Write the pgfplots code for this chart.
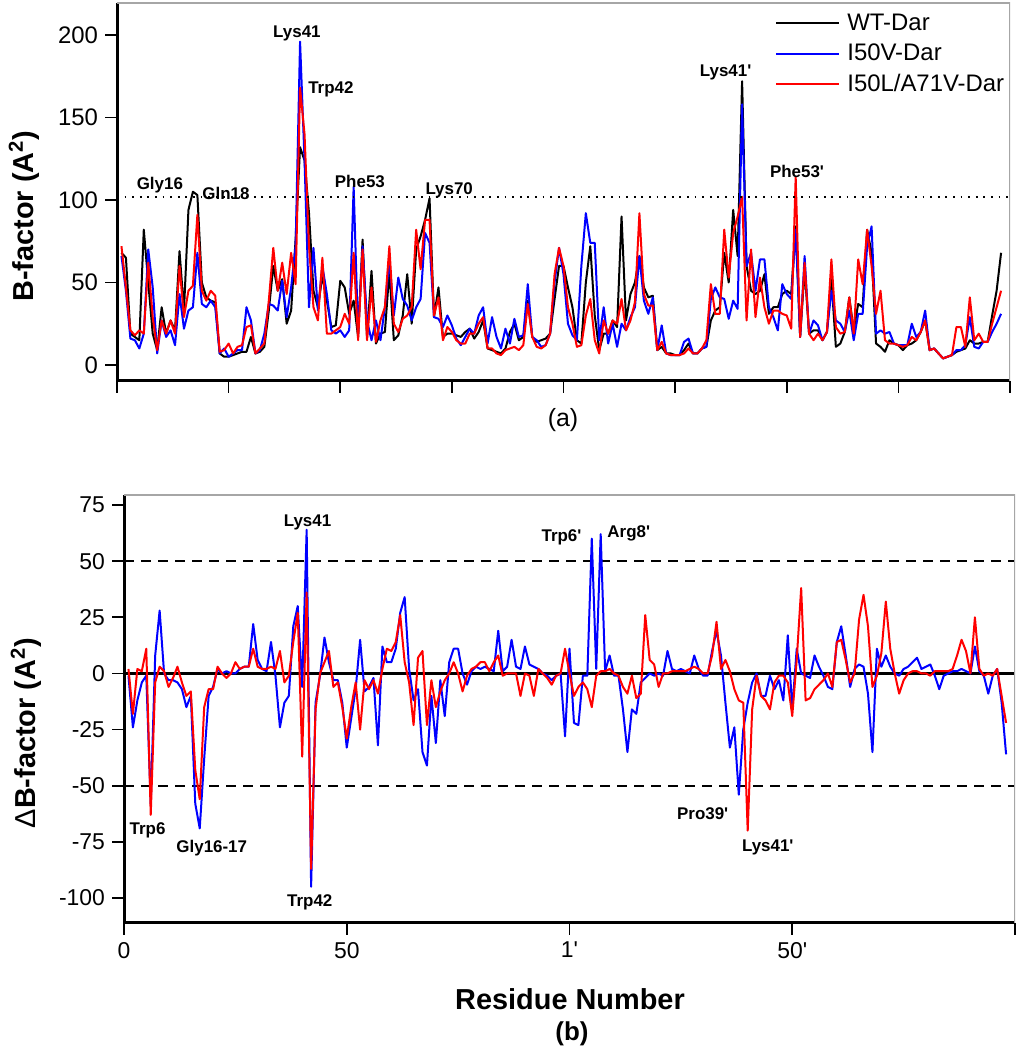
\documentclass[border=0pt]{standalone}
\usepackage{fontspec}
\setmainfont{Liberation Sans}
\usepackage{pgfplots}
\usepackage{pgfplotstable}
\pgfplotsset{compat=1.18}

\pgfplotstableread{
i W V L
1 68 66 72
2 65 45 47
3 19 16 21
4 17 15 18
5 15 10 21
6 82 19 19
7 50 70 62
8 19 47 29
9 9 7 9
10 35 27 27
11 19 17 19
12 27 21 27
13 21 12 19
14 69 43 60
15 33 22 29
16 94 33 45
17 105 35 48
18 103 68 91
19 50 37 45
20 41 35 39
21 39 39 45
22 38 35 42
23 7 7 8
24 5 10 9
25 5 5 13
26 6 7 7
27 7 9 11
28 8 9 12
29 8 35 23
30 17 27 24
31 7 7 7
32 8 9 10
33 11 19 13
34 33 37 39
35 60 36 71
36 45 33 45
37 52 51 62
38 25 29 43
39 33 47 68
40 76 72 49
41 132 196 168
42 124 124 140
43 92 35 72
44 45 71 35
45 35 33 27
46 54 60 65
47 39 43 19
48 23 21 19
49 24 19 21
50 51 21 23
51 47 17 31
52 31 21 25
53 39 108 68
54 17 19 15
55 76 72 70
56 17 27 15
57 57 15 47
58 13 27 14
59 19 15 27
60 20 35 35
61 57 64 72
62 15 30 25
63 18 53 20
64 30 40 28
65 55 36 30
66 25 27 35
67 70 35 82
68 78 40 58
69 88 80 88
70 101 74 88
71 29 29 30
72 47 28 41
73 17 23 15
74 19 30 23
75 19 24 20
76 18 16 15
77 17 12 13
78 20 17 13
79 22 22 19
80 16 19 19
81 20 30 25
82 27 35 29
83 10 13 10
84 9 29 10
85 8 17 7
86 7 10 6
87 10 22 9
88 20 13 10
89 25 28 11
90 15 17 9
91 17 18 12
92 39 49 37
93 17 17 17
94 14 15 11
95 15 11 10
96 16 12 12
97 19 19 19
98 40 50 55
99 60 71 71
100 60 55 60
101 47 25 35
102 35 18 25
103 15 15 11
104 13 60 12
105 50 92 30
106 72 74 40
107 30 74 15
108 9 15 7
109 19 35 27
110 19 13 19
111 27 25 27
112 23 11 25
113 90 25 40
114 27 21 21
115 43 29 27
116 50 35 38
117 66 66 92
118 47 39 43
119 41 31 36
120 42 41 36
121 9 9 9
122 11 24 14
123 7 7 7
124 7 6 6
125 6 6 6
126 6 6 6
127 9 14 7
128 13 16 10
129 7 7 7
130 7 7 7
131 10 10 10
132 11 11 15
133 27 40 49
134 33 47 31
135 35 41 31
136 68 40 82
137 50 28 53
138 94 39 80
139 66 34 90
140 172 158 102
141 60 60 27
142 45 68 70
143 43 45 29
144 45 64 53
145 55 64 35
146 31 35 25
147 35 29 33
148 35 21 33
149 43 49 31
150 45 43 30
151 43 40 22
152 84 82 114
153 17 17 17
154 58 66 62
155 19 19 19
156 21 27 15
157 21 24 19
158 15 15 15
159 20 20 20
160 52 45 64
161 11 27 23
162 13 25 19
163 20 20 20
164 41 33 41
165 21 15 19
166 37 31 64
167 35 31 49
168 82 72 82
169 68 84 60
170 13 19 31
171 11 21 45
172 8 19 15
173 15 20 13
174 13 13 13
175 12 12 12
176 9 12 11
177 12 12 12
178 13 25 17
179 15 17 15
180 20 20 20
181 27 33 27
182 9 9 9
183 10 10 10
184 7 7 7
185 4 4 4
186 5 5 5
187 6 6 6
188 8 9 23
189 9 9 23
190 10 12 11
191 15 29 41
192 13 11 15
193 13 10 19
194 14 14 14
195 14 14 14
196 30 20 25
197 45 25 35
198 68 31 45
}\topdata

\pgfplotstableread{
i V L
1 -1 2
2 -24 -18
3 -12 2
4 -4 1
5 -1 11
6 -58 -63
7 8 -4
8 28 3
9 0 1
10 -3 -6
11 -3 -2
12 -4 3
13 -7 -4
14 -15 -10
15 -10 -8
16 -58 -43
17 -69 -56
18 -38 -15
19 -10 -7
20 -6 -7
21 2 3
22 0 0
23 1 -2
24 0 0
25 0 5
26 2 2
27 3 3
28 3 3
29 22 11
30 6 3
31 2 2
32 1 2
33 14 3
34 -1 2
35 -24 10
36 -13 -4
37 -10 -1
38 21 14
39 30 27
40 -6 -37
41 64 36
42 -95 -87
43 -13 -16
44 -1 0
45 16 5
46 5 10
47 -3 -6
48 -3 -4
49 -13 -15
50 -33 -29
51 -20 -15
52 -7 -4
53 15 -25
54 -8 -3
55 -6 -7
56 -2 -3
57 -32 -9
58 12 2
59 5 11
60 5 10
61 11 14
62 27 26
63 34 5
64 2 -4
65 -12 -23
66 -7 7
67 -35 10
68 -41 -23
69 -10 -3
70 -31 -15
71 -3 -8
72 -19 -3
73 5 0
74 11 5
75 11 0
76 0 -8
77 -5 -1
78 1 2
79 3 3
80 2 5
81 3 5
82 2 1
83 1 5
84 19 8
85 1 -1
86 3 0
87 15 0
88 3 0
89 2 -10
90 12 0
91 4 -1
92 3 -10
93 2 2
94 0 0
95 -1 -2
96 -3 -5
97 -1 -1
98 0 0
99 -28 11
100 11 0
101 -22 -10
102 -23 -6
103 -1 -4
104 -1 -7
105 60 -15
106 2 -1
107 62 1
108 1 1
109 8 2
110 -1 0
111 -1 -1
112 -16 -6
113 -35 -9
114 -16 -1
115 -18 -11
116 -4 -9
117 -2 26
118 0 6
119 -1 4
120 0 -6
121 -1 0
122 10 0
123 2 1
124 1 1
125 2 1
126 1 1
127 0 2
128 8 3
129 2 2
130 -1 0
131 -1 0
132 10 8
133 19 23
134 8 2
135 -13 6
136 -33 1
137 -24 -7
138 -54 -12
139 -25 -13
140 -13 -70
141 -4 -16
142 0 -1
143 -10 -10
144 -10 -12
145 -1 -16
146 -7 -4
147 -3 -1
148 -12 -1
149 17 -4
150 -16 -19
151 11 6
152 0 38
153 -1 -12
154 -2 -11
155 8 -7
156 3 -5
157 -1 -3
158 -6 0
159 -7 -6
160 14 14
161 21 15
162 8 6
163 -6 -4
164 2 0
165 4 24
166 3 35
167 -9 21
168 -35 -6
169 11 -1
170 3 9
171 8 32
172 3 11
173 0 0
174 -1 -9
175 2 -3
176 3 0
177 5 1
178 7 1
179 2 0
180 3 0
181 4 -1
182 -1 1
183 -7 1
184 -1 1
185 0 1
186 1 2
187 1 8
188 2 15
189 1 10
190 0 0
191 12 25
192 1 2
193 -1 -1
194 -9 0
195 -1 -1
196 2 2
197 -13 -10
198 -36 -22
}\botdata

\tikzset{lbl/.style={font=\bfseries\fontsize{8.5}{10}\selectfont, inner sep=0pt}}
\newcommand{\pr}{\textquotesingle}

\begin{document}
\begin{tikzpicture}
\useasboundingbox (0,0) rectangle (511.5bp,525bp);
\pgfplotsset{
  panel/.style={
    scale only axis, axis lines=left,
    axis line style={-, line width=1.5bp, black},
    tick align=outside, major tick length=6bp,
    tick style={black, line width=0.8bp},
    /pgf/number format/assume math mode=true,
    tick label style={font=\fontsize{11.5}{13}\selectfont},
    xmin=0, xmax=200,
    every axis plot/.append style={line width=1bp, line join=round},
  },
}
\begin{axis}[panel, at={(58.5bp,334.5bp)}, anchor=south west,
  width=446.5bp, height=189bp,
  ymin=-9.7, ymax=219.4,
  xtick={0,25,...,200}, xticklabels={},
  ytick={0,50,100,150,200},
  yticklabel style={font=\fontsize{12}{14}\selectfont},
  legend style={at={(0.7368,0.976)}, anchor=north west, draw=none, fill=none,
    font=\fontsize{12}{14}\selectfont, row sep=4.25bp, column sep=3.5bp,
    inner sep=0pt,
    nodes={inner sep=0pt, text height=9bp, text depth=2bp}},
  legend cell align=left,
  legend image code/.code={\draw[#1] (0bp,0bp) -- (31.5bp,0bp);},
]
\addplot[black] table[x=i,y=W]{\topdata};
\addplot[blue] table[x=i,y=V]{\topdata};
\addplot[red] table[x=i,y=L]{\topdata};
\addplot[forget plot, black, line width=0.9bp, dash pattern=on 0.9bp off 2.9bp] coordinates {(0,102) (200,102)};
\legend{WT-Dar, I50V-Dar, I50L/A71V-Dar}
\draw[gray!70, line width=0.8bp] (rel axis cs:0,1) -- (rel axis cs:1,1) -- (rel axis cs:1,0);
\node[lbl] at (axis cs:9.6,109) {Gly16};
\node[lbl] at (axis cs:24.4,104) {Gln18};
\node[lbl] at (axis cs:40.3,201) {Lys41};
\node[lbl] at (axis cs:47.9,167) {Trp42};
\node[lbl] at (axis cs:54.4,111.5) {Phe53};
\node[lbl] at (axis cs:74.4,106) {Lys70};
\node[lbl] at (axis cs:136.3,177.6) {Lys41\pr};
\node[lbl] at (axis cs:152.3,117) {Phe53\pr};
\end{axis}

\begin{axis}[panel, at={(62bp,63.5bp)}, anchor=south west,
  width=445.5bp, height=214bp,
  ymin=-111.1, ymax=79.45,
  xtick={0,50,100,150,200},
  xticklabels={0,50,1\pr,50\pr,{}},
  ytick={-100,-75,-50,-25,0,25,50,75},
]
\addplot[black, line width=1.2bp] coordinates {(0,0) (200,0)};
\addplot[black, line width=0.8bp, dash pattern=on 5bp off 3.5bp] coordinates {(0,50) (200,50)};
\addplot[black, line width=0.8bp, dash pattern=on 5bp off 3.5bp] coordinates {(0,-50) (200,-50)};
\addplot[blue] table[x=i,y=V]{\botdata};
\addplot[red] table[x=i,y=L]{\botdata};
\draw[gray!70, line width=0.8bp] (rel axis cs:0,1) -- (rel axis cs:1,1) -- (rel axis cs:1,0);
\node[lbl] at (axis cs:41.2,67.4) {Lys41};
\node[lbl] at (axis cs:5.3,-70) {Trp6};
\node[lbl] at (axis cs:19.7,-77.7) {Gly16-17};
\node[lbl] at (axis cs:41.7,-101.8) {Trp42};
\node[lbl] at (axis cs:98.2,60.7) {Trp6\pr};
\node[lbl] at (axis cs:113.3,62.5) {Arg8\pr};
\node[lbl] at (axis cs:129.9,-62.5) {Pro39\pr};
\node[lbl] at (axis cs:144.5,-77.3) {Lys41\pr};
\end{axis}

\node[rotate=90, font=\bfseries\fontsize{14.5}{17}\selectfont] at (12bp,417bp) {B-factor (A\textsuperscript{2})};
\node[rotate=90, font=\bfseries\fontsize{14.5}{17}\selectfont] at (13bp,158.5bp) {{\mdseries Δ}B-factor (A\textsuperscript{2})};
\node[font=\fontsize{12.5}{15}\selectfont] at (281.5bp,315bp) {(a)};
\node[font=\bfseries\fontsize{14.5}{17}\selectfont] at (285bp,25.5bp) {Residue Number};
\node[font=\bfseries\fontsize{13}{15}\selectfont] at (286bp,8bp) {(b)};
\end{tikzpicture}
\end{document}
